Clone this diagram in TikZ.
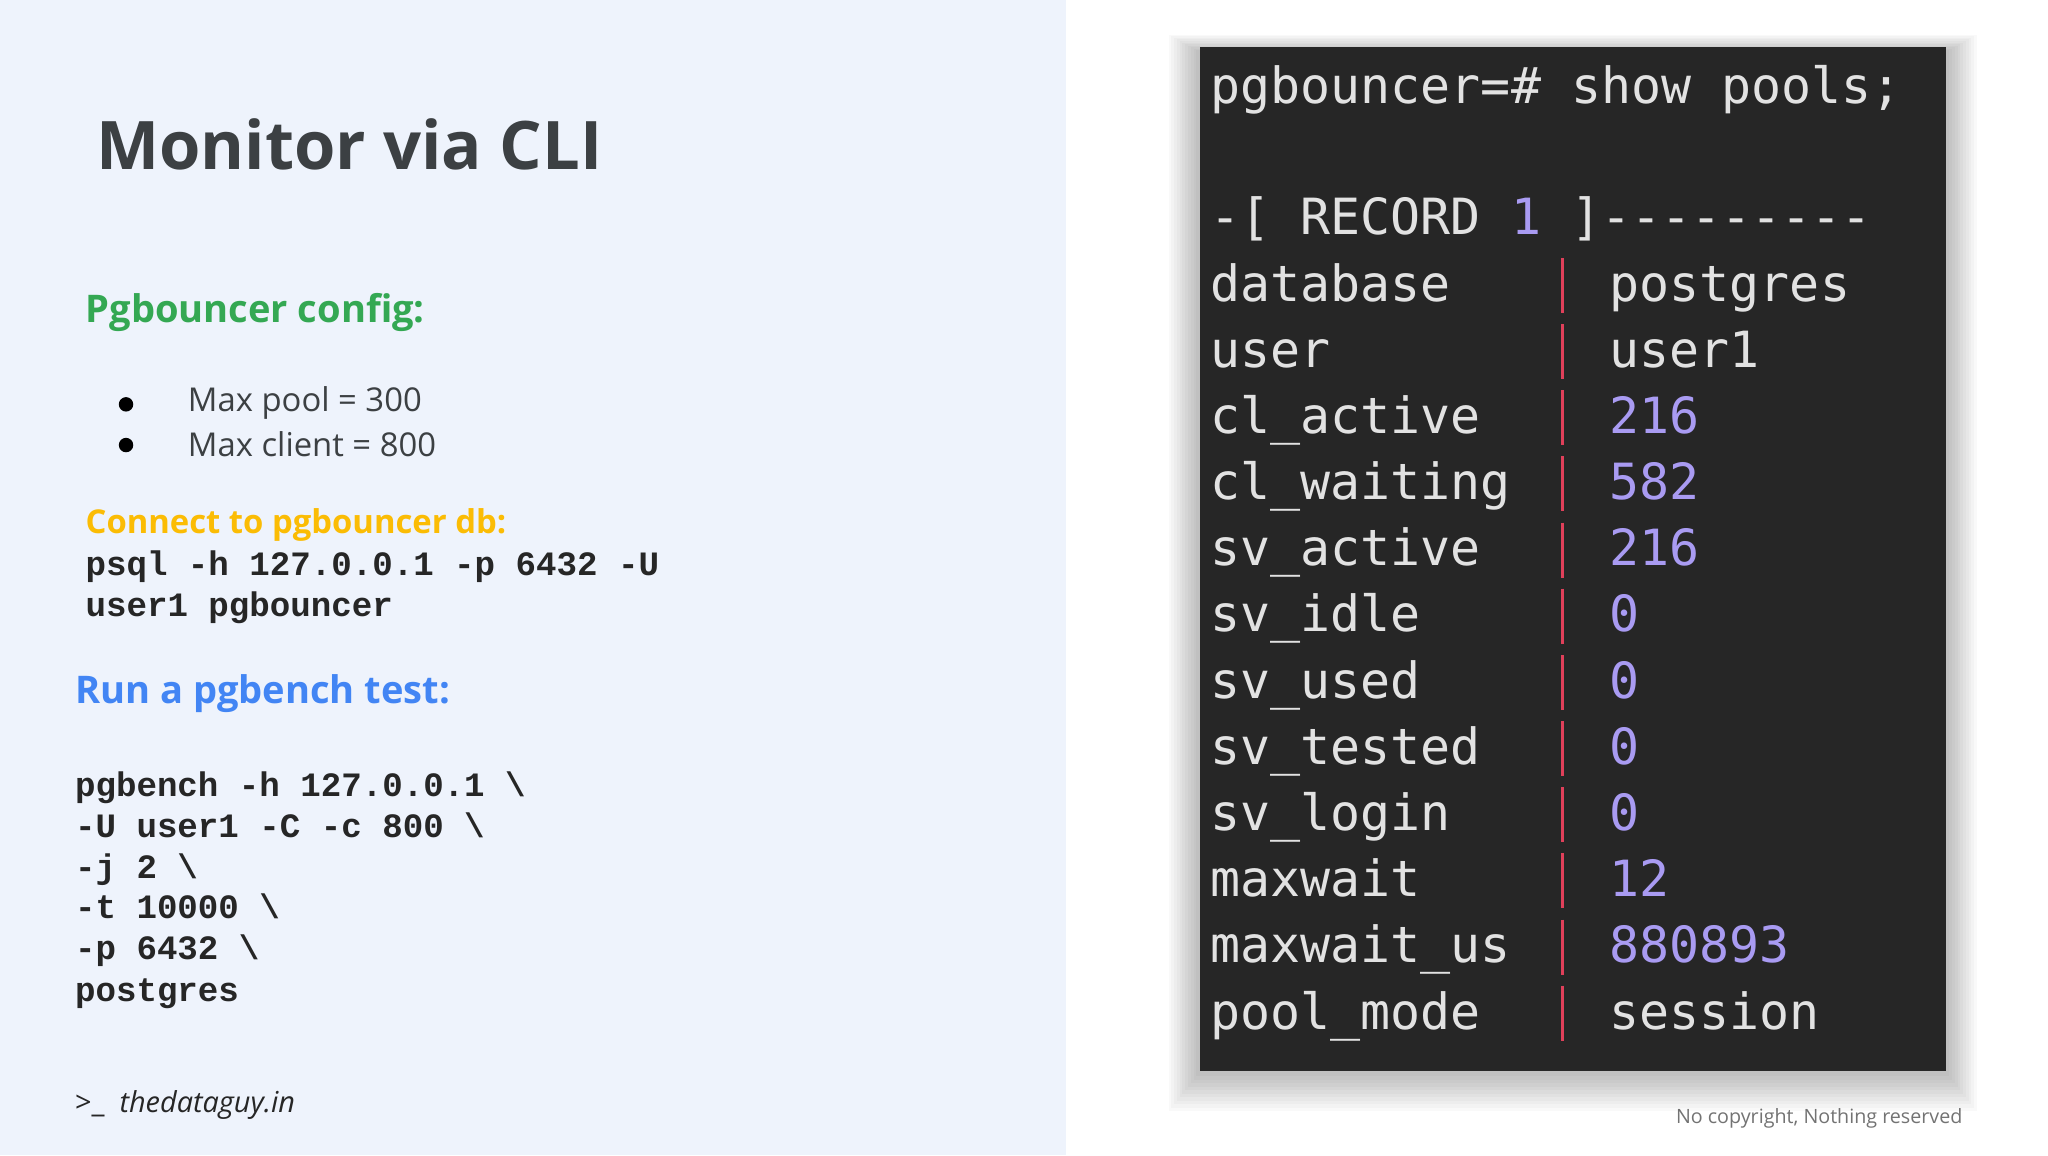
\documentclass[tikz,border=0pt]{standalone}
\usepackage{fontspec}
\setmainfont{Open Sans}
\newfontfamily\codefont{Liberation Mono}
\newfontfamily\termfont{DejaVu Sans Mono}
\definecolor{panel}{HTML}{EEF3FC}
\definecolor{ttl}{HTML}{3C4043}
\definecolor{ggreen}{HTML}{34A853}
\definecolor{gyellow}{HTML}{FBBC04}
\definecolor{gblue}{HTML}{4285F4}
\definecolor{term}{HTML}{262626}
\definecolor{termtxt}{HTML}{E2E2E2}
\definecolor{purp}{HTML}{A99BF2}
\definecolor{sepred}{HTML}{E0405A}
\begin{document}
\begin{tikzpicture}[x=1pt,y=-1pt,
  lbl/.style={anchor=west,inner sep=0pt},
  code/.style={lbl,font=\codefont\bfseries\fontsize{26}{30}\selectfont,text=black!85},
  tt/.style={anchor=base west,inner sep=0pt,font=\termfont\fontsize{38}{44}\selectfont,text=termtxt}]
\useasboundingbox (0,0) rectangle (1560,880);
\fill[white] (0,0) rectangle (1560,880);
\fill[panel] (0,0) rectangle (812,880);
\node[lbl,text=ttl,font=\fontsize{51}{60}\selectfont\bfseries] (title) at (73,110) {Monitor via CLI};
\node[lbl,text=ggreen,font=\fontsize{29}{36}\selectfont\bfseries] (h1) at (65,238) {Pgbouncer config:};
\fill[black] (96,308) circle (5.5);
\node[lbl,font=\fontsize{25}{30}\selectfont,text=ttl] (b1) at (143,307) {Max pool = 300};
\fill[black] (96,339) circle (5.5);
\node[lbl,font=\fontsize{25}{30}\selectfont,text=ttl] (b2) at (143,338) {Max client = 800};
\node[lbl,text=gyellow,font=\fontsize{25}{30}\selectfont\bfseries] (h2) at (65,400) {Connect to pgbouncer db:};
\node[code] (c1) at (65,432) {psql -h 127.0.0.1 -p 6432 -U};
\node[code] (c2) at (65,463) {user1 pgbouncer};
\node[lbl,text=gblue,font=\fontsize{29}{36}\selectfont\bfseries] (h3) at (57,528) {Run a pgbench test:};
\foreach \t/\y [count=\i] in {pgbench -h 127.0.0.1 \textbackslash/598,-U user1 -C -c 800 \textbackslash/629,-j 2 \textbackslash/660,-t 10000 \textbackslash/691,-p 6432 \textbackslash/722,postgres/754}
  \node[code,anchor=base west] (d\i) at (57,\y+9) {\t};
\node[lbl,font=\fontsize{22}{26}\selectfont,text=black!85] (foot) at (57,842) {>\_\ \ \textit{thedataguy.in}};
\node[anchor=east,inner sep=0pt,font=\fontsize{15}{18}\selectfont,text=black!55] (copy) at (1495,852) {No copyright, Nothing reserved};
\foreach \r in {34,31,...,4}
  \fill[black,opacity=0.022] (914-\r*0.7,36-\r*0.4+4) rectangle (1482+\r*0.7,816+\r*0.9);
\fill[term] (914,36) rectangle (1482,816);
\node[tt] (p) at (922,79) {pgbouncer=\# show pools;};
\node[tt] (rec) at (922,179) {-[ RECORD \textcolor{purp}{1} ]---------};
\foreach \k/\v/\c [count=\i] in {database/postgres/termtxt,user/user1/termtxt,cl\_active/216/purp,cl\_waiting/582/purp,sv\_active/216/purp,sv\_idle/0/purp,sv\_used/0/purp,sv\_tested/0/purp,sv\_login/0/purp,maxwait/12/purp,maxwait\_us/880893/purp,pool\_mode/session/termtxt}{
  \pgfmathsetmacro\yy{166+50.4*\i}
  \node[tt] (k\i) at (922,\yy+13) {\k};
  \node[tt,text=\c] (v\i) at (1226,\yy+13) {\v};
  \draw[sepred,line width=2.5pt] (1190,\yy-20) -- (1190,\yy+22);
}
\end{tikzpicture}
\end{document}
